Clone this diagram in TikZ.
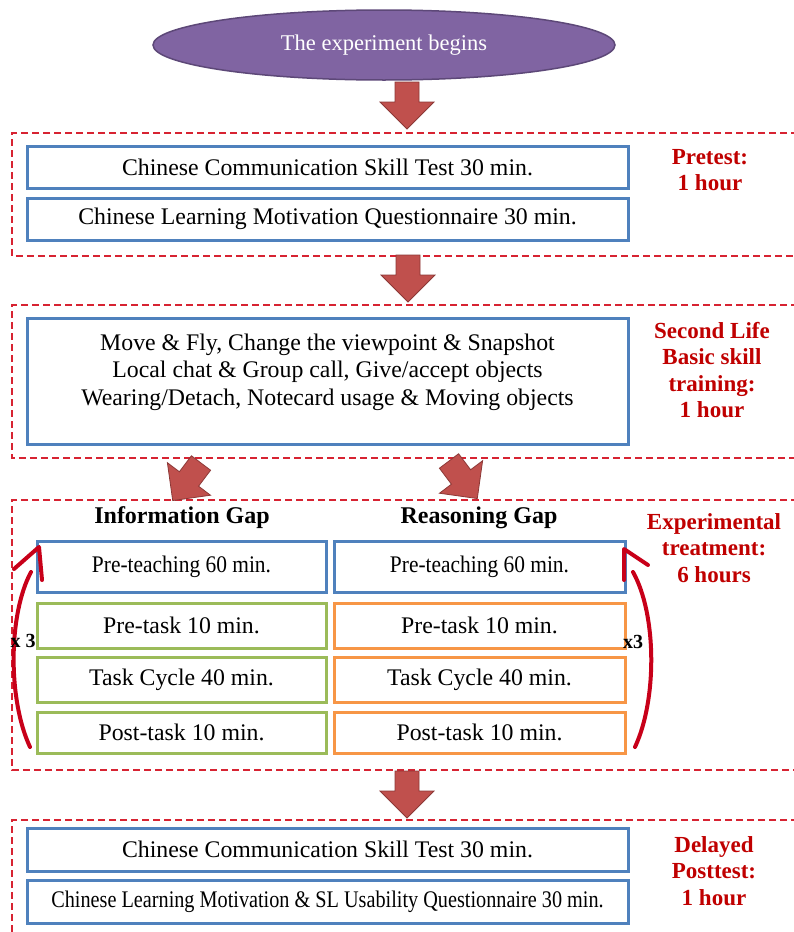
\documentclass[tikz,border=0pt]{standalone}
\usepackage{fontspec}
\setmainfont{Liberation Serif}
\usetikzlibrary{shapes.geometric}
\definecolor{boxblue}{RGB}{79,129,189}
\definecolor{boxgreen}{RGB}{155,187,89}
\definecolor{boxorange}{RGB}{247,150,70}
\definecolor{dashred}{RGB}{215,35,50}
\definecolor{labred}{RGB}{192,0,0}
\definecolor{loopred}{RGB}{200,0,25}
\definecolor{arrowfill}{RGB}{192,80,77}
\definecolor{arrowline}{RGB}{140,56,54}
\definecolor{ellfill}{RGB}{128,100,162}
\definecolor{ellline}{RGB}{93,72,120}
\tikzset{
  bodyfont/.style={font=\fontsize{23.8}{27.5}\selectfont},
  tbox/.style={draw=#1, line width=3pt, bodyfont, inner sep=0pt, align=center},
  phase/.style={draw=dashred, line width=2.4pt, dash pattern=on 7pt off 4pt},
  phaselabel/.style={text=labred, font=\fontsize{23}{26.5}\selectfont\bfseries, align=center},
  heading/.style={font=\fontsize{24}{28}\selectfont\bfseries},
  loop/.style={draw=loopred, line width=4pt, line cap=round, line join=round},
  blockarrow/.pic={\draw[fill=arrowfill, draw=arrowline, line width=0.8pt, line join=miter]
     (-12,0) -- (12,0) -- (12,20) -- (27,20) -- (0,47) -- (-27,20) -- (-12,20) -- cycle;}
}
\begin{document}
\begin{tikzpicture}[x=1pt,y=-1pt]
\useasboundingbox (0,0) rectangle (793,932);
\fill[white] (0,0) rectangle (793,932);

% start ellipse
\node[ellipse, draw=ellline, line width=1.5pt, fill=ellfill, minimum width=462pt, minimum height=70pt,
      text=white, font=\fontsize{22.5}{26}\selectfont] (start) at (384,45) {The experiment begins};

% phase frames
\draw[phase] (820,133) -- (12,133) -- (12,256) -- (820,256);
\draw[phase] (820,305) -- (12,305) -- (12,458) -- (820,458);
\draw[phase] (820,500) -- (12,500) -- (12,770) -- (820,770);
\draw[phase] (820,820) -- (12,820) -- (12,960);

% block arrows
\pic at (407,82) {blockarrow};
\pic at (408,255) {blockarrow};
\pic at (407,771) {blockarrow};
\pic[rotate=-37] at (201,463) {blockarrow};
\pic[rotate=37] at (449,461) {blockarrow};

% pretest
\node[tbox=boxblue, minimum width=601pt, minimum height=42pt] (pre1) at (327.5,167) {Chinese Communication Skill Test 30 min.};
\node[tbox=boxblue, minimum width=601pt, minimum height=42pt] (pre2) at (327.5,219) {Chinese Learning Motivation Questionnaire 30 min.};
\node[phaselabel] (prelab) at (710,170) {Pretest:\\1 hour};

% second life
\node[tbox=boxblue, minimum width=601pt, minimum height=126pt] (sl) at (327.5,381) {};
\node[bodyfont, align=center, inner sep=0pt] (sltext) at (327.5,372)
  {Move \& Fly, Change the viewpoint \& Snapshot\\Local chat \& Group call, Give/accept objects\\Wearing/Detach, Notecard usage \& Moving objects};
\node[phaselabel] (sllab) at (712,370) {Second Life\\Basic skill\\training:\\1 hour};

% experimental treatment
\node[heading] (infogap) at (182,518) {Information Gap};
\node[heading] (reasgap) at (479,518) {Reasoning Gap};

\node[tbox=boxblue, minimum width=289pt, minimum height=51pt] (l1) at (181.5,566.5) {\scalebox{0.9}[1]{Pre-teaching 60 min.}};
\node[tbox=boxgreen, minimum width=289pt, minimum height=45pt] (l2) at (181.5,625.5) {Pre-task 10 min.};
\node[tbox=boxgreen, minimum width=289pt, minimum height=45pt] (l3) at (181.5,679.5) {Task Cycle 40 min.};
\node[tbox=boxgreen, minimum width=289pt, minimum height=41pt] (l4) at (181.5,732.5) {Post-task 10 min.};

\node[tbox=boxblue, minimum width=291pt, minimum height=51pt] (r1) at (479.5,566.5) {\scalebox{0.9}[1]{Pre-teaching 60 min.}};
\node[tbox=boxorange, minimum width=291pt, minimum height=45pt] (r2) at (479.5,625.5) {Pre-task 10 min.};
\node[tbox=boxorange, minimum width=291pt, minimum height=45pt] (r3) at (479.5,679.5) {Task Cycle 40 min.};
\node[tbox=boxorange, minimum width=291pt, minimum height=41pt] (r4) at (479.5,732.5) {Post-task 10 min.};

\node[phaselabel] (explab) at (714,548) {Experimental\\treatment:\\6 hours};

% loop arrows
\coordinate (lb) at (30,747);
\coordinate (lt) at (31,572);
\coordinate (ltip) at (39,547);
\draw[loop] (lb) .. controls (8,700) and (8,615) .. (lt);
\draw[loop] (14,569) -- (ltip) -- (42,580);
\node[font=\fontsize{20}{22}\selectfont\bfseries] (lx) at (23,641) {x 3};

\coordinate (rb) at (635,747);
\coordinate (rt) at (633,572);
\coordinate (rtip) at (624,549);
\draw[loop] (rb) .. controls (657,700) and (657,615) .. (rt);
\draw[loop] (648,565) -- (rtip) -- (624,580);
\node[font=\fontsize{20}{22}\selectfont\bfseries] (rx) at (633,642) {x3};

% delayed posttest
\node[tbox=boxblue, minimum width=601pt, minimum height=43pt] (post1) at (327.5,849.5) {Chinese Communication Skill Test 30 min.};
\node[tbox=boxblue, minimum width=601pt, minimum height=43pt] (post2) at (327.5,901.5)
  {\scalebox{0.85}[1]{Chinese Learning Motivation \& SL Usability Questionnaire 30 min.}};
\node[phaselabel] (postlab) at (714,871) {Delayed\\Posttest:\\1 hour};
\end{tikzpicture}
\end{document}
